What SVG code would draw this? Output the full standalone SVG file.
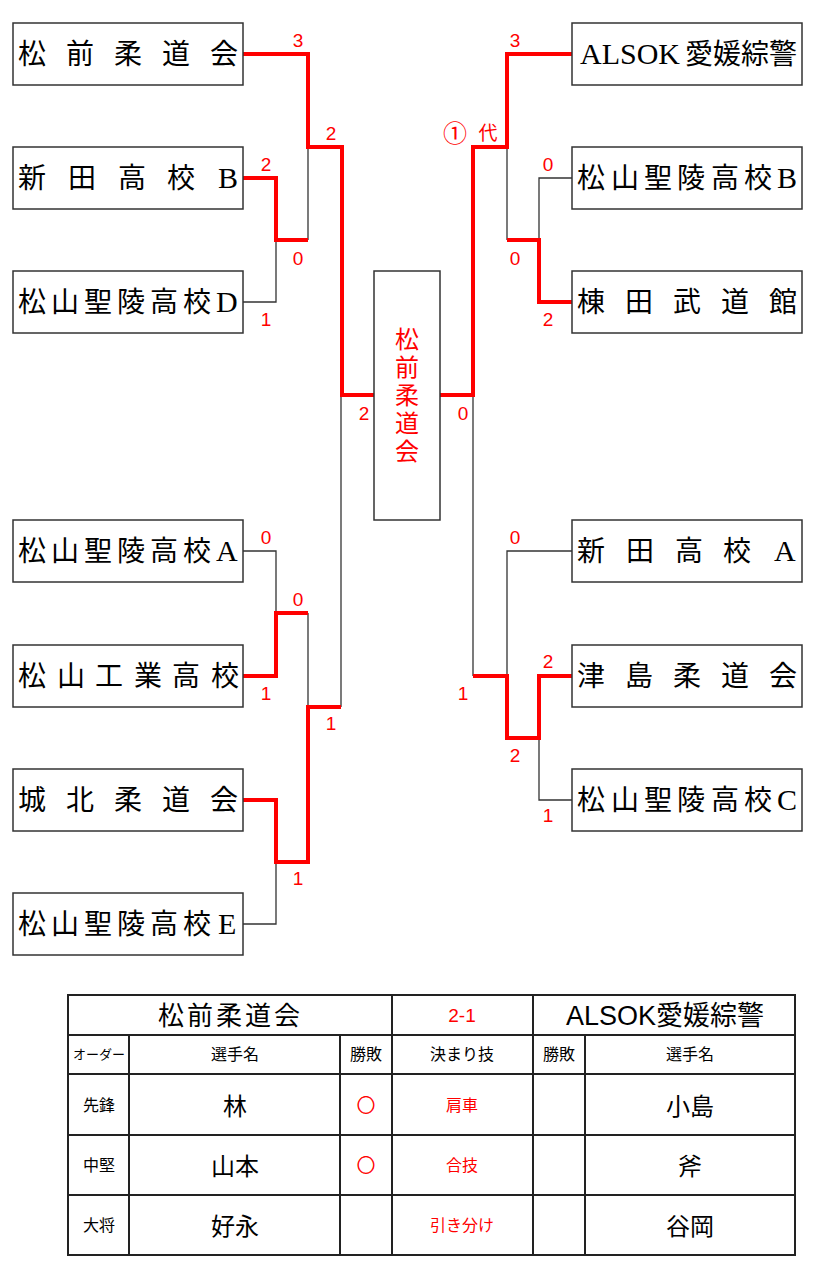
<svg xmlns="http://www.w3.org/2000/svg" width="820" height="1280" viewBox="0 0 820 1280">
<style>
.bg{fill:#fff}
.box{fill:#fff;stroke:#333;stroke-width:1.5}
.team{font-family:"Liberation Serif","Noto Sans CJK JP",serif;font-size:28px;fill:#000}
.lat{font-family:"Liberation Serif",serif;font-size:30px}
.sc{font-family:"Liberation Sans","Noto Sans CJK JP",sans-serif;font-size:19px;fill:#f00;text-anchor:middle}
.win{fill:none;stroke:#f00;stroke-width:4;stroke-linejoin:miter}
.lose{fill:none;stroke:#333;stroke-width:1.3}
.ctr{font-family:"Noto Sans CJK JP",sans-serif;font-size:24px;fill:#f00;writing-mode:vertical-rl;letter-spacing:4px}
.tb{fill:none;stroke:#222;stroke-width:2}
.tl{stroke:#222;stroke-width:2}
.tt{font-family:"Liberation Sans","Noto Sans CJK JP",sans-serif;fill:#000;text-anchor:middle}
.red{fill:#f00}
.cjk{font-family:"Noto Sans CJK JP",sans-serif}
.mark{stroke:#f00;stroke-width:0.6}
</style>
<rect class="bg" x="0" y="0" width="820" height="1280"/>
<g id="connectors">
<path class="lose" d="M308,240 V147"/>
<path class="lose" d="M243,302 H276 V240"/>
<path class="lose" d="M507,147 V240"/>
<path class="lose" d="M572,178 H539 V240"/>
<path class="lose" d="M243,551 H276 V613"/>
<path class="lose" d="M308,613 V707"/>
<path class="lose" d="M243,924 H276 V862"/>
<path class="lose" d="M341,707 V395"/>
<path class="lose" d="M473,395 V676"/>
<path class="lose" d="M572,551 H507 V676"/>
<path class="lose" d="M572,800 H539 V738"/>
<path class="win" d="M243,54 H308 V147 H342 V395 H374"/>
<path class="win" d="M243,178 H276 V240 H308"/>
<path class="win" d="M572,54 H507 V147 H473 V395 H440"/>
<path class="win" d="M507,240 H539 V302 H572"/>
<path class="win" d="M243,676 H276 V613 H308"/>
<path class="win" d="M243,800 H276 V862 H308 V707 H341"/>
<path class="win" d="M473,676 H507 V738 H539 V676 H572"/>
</g>
<g id="scores">
<text class="sc" x="298" y="47">3</text>
<text class="sc" x="331" y="140">2</text>
<text class="sc" x="266" y="171">2</text>
<text class="sc" x="298" y="265">0</text>
<text class="sc" x="266" y="326">1</text>
<text class="sc" x="364" y="420">2</text>
<text class="sc" x="463" y="420">0</text>
<text class="sc" x="515" y="47">3</text>
<text class="sc cjk" x="455" y="142" style="font-size:24px">①</text>
<text class="sc cjk" x="488" y="140" style="font-size:19px">代</text>
<text class="sc" x="548" y="171">0</text>
<text class="sc" x="515" y="265">0</text>
<text class="sc" x="548" y="326">2</text>
<text class="sc" x="266" y="544">0</text>
<text class="sc" x="298" y="606">0</text>
<text class="sc" x="266" y="700">1</text>
<text class="sc" x="331" y="730">1</text>
<text class="sc" x="298" y="885">1</text>
<text class="sc" x="515" y="544">0</text>
<text class="sc" x="548" y="668">2</text>
<text class="sc" x="463" y="700">1</text>
<text class="sc" x="515" y="762">2</text>
<text class="sc" x="548" y="822">1</text>
</g>
<g id="L1"><rect class="box" x="13" y="23" width="230" height="62"/><text class="team" y="64"><tspan x="18">松</tspan><tspan x="66">前</tspan><tspan x="114">柔</tspan><tspan x="162">道</tspan><tspan x="210">会</tspan></text></g>
<g id="L2"><rect class="box" x="13" y="147" width="230" height="62"/><text class="team" y="188"><tspan x="18">新</tspan><tspan x="68">田</tspan><tspan x="118">高</tspan><tspan x="167">校</tspan><tspan class="lat" x="218">B</tspan></text></g>
<g id="L3"><rect class="box" x="13" y="271" width="230" height="62"/><text class="team" y="312"><tspan x="18">松</tspan><tspan x="51">山</tspan><tspan x="84">聖</tspan><tspan x="117">陵</tspan><tspan x="150">高</tspan><tspan x="183">校</tspan><tspan class="lat" x="216">D</tspan></text></g>
<g id="L4"><rect class="box" x="13" y="520" width="230" height="62"/><text class="team" y="561"><tspan x="18">松</tspan><tspan x="51">山</tspan><tspan x="84">聖</tspan><tspan x="117">陵</tspan><tspan x="150">高</tspan><tspan x="183">校</tspan><tspan class="lat" x="216">A</tspan></text></g>
<g id="L5"><rect class="box" x="13" y="645" width="230" height="62"/><text class="team" y="686"><tspan x="18">松</tspan><tspan x="57">山</tspan><tspan x="95">工</tspan><tspan x="134">業</tspan><tspan x="172">高</tspan><tspan x="211">校</tspan></text></g>
<g id="L6"><rect class="box" x="13" y="769" width="230" height="62"/><text class="team" y="810"><tspan x="18">城</tspan><tspan x="66">北</tspan><tspan x="114">柔</tspan><tspan x="162">道</tspan><tspan x="210">会</tspan></text></g>
<g id="L7"><rect class="box" x="13" y="893" width="230" height="62"/><text class="team" y="934"><tspan x="18">松</tspan><tspan x="51">山</tspan><tspan x="84">聖</tspan><tspan x="117">陵</tspan><tspan x="150">高</tspan><tspan x="183">校</tspan><tspan class="lat" x="218">E</tspan></text></g>
<g id="R1"><rect class="box" x="572" y="23" width="230" height="62"/><text class="team" y="64"><tspan class="lat" x="580">ALSOK</tspan><tspan x="685">愛</tspan><tspan x="713">媛</tspan><tspan x="741">綜</tspan><tspan x="769">警</tspan></text></g>
<g id="R2"><rect class="box" x="572" y="147" width="230" height="62"/><text class="team" y="188"><tspan x="577">松</tspan><tspan x="611">山</tspan><tspan x="644">聖</tspan><tspan x="677">陵</tspan><tspan x="711">高</tspan><tspan x="744">校</tspan><tspan class="lat" x="777">B</tspan></text></g>
<g id="R3"><rect class="box" x="572" y="271" width="230" height="62"/><text class="team" y="312"><tspan x="577">棟</tspan><tspan x="625">田</tspan><tspan x="673">武</tspan><tspan x="721">道</tspan><tspan x="769">館</tspan></text></g>
<g id="R4"><rect class="box" x="572" y="520" width="230" height="62"/><text class="team" y="561"><tspan x="577">新</tspan><tspan x="626">田</tspan><tspan x="675">高</tspan><tspan x="723">校</tspan><tspan class="lat" x="774">A</tspan></text></g>
<g id="R5"><rect class="box" x="572" y="645" width="230" height="62"/><text class="team" y="686"><tspan x="577">津</tspan><tspan x="625">島</tspan><tspan x="673">柔</tspan><tspan x="721">道</tspan><tspan x="769">会</tspan></text></g>
<g id="R6"><rect class="box" x="572" y="769" width="230" height="62"/><text class="team" y="810"><tspan x="577">松</tspan><tspan x="611">山</tspan><tspan x="644">聖</tspan><tspan x="677">陵</tspan><tspan x="711">高</tspan><tspan x="744">校</tspan><tspan class="lat" x="777">C</tspan></text></g>
<g id="champion"><rect class="box" x="374" y="271" width="66" height="249"/>
<text class="ctr" x="407" y="327">松前柔道会</text></g>
<g id="result-table">
<rect class="tb" x="68" y="995" width="727" height="260"/>
<line class="tl" x1="68" y1="1035" x2="795" y2="1035"/>
<line class="tl" x1="68" y1="1074" x2="795" y2="1074"/>
<line class="tl" x1="68" y1="1135" x2="795" y2="1135"/>
<line class="tl" x1="68" y1="1195" x2="795" y2="1195"/>
<line class="tl" x1="129" y1="1035" x2="129" y2="1255"/>
<line class="tl" x1="340" y1="1035" x2="340" y2="1255"/>
<line class="tl" x1="392" y1="995" x2="392" y2="1255"/>
<line class="tl" x1="533" y1="995" x2="533" y2="1255"/>
<line class="tl" x1="585" y1="1035" x2="585" y2="1255"/>
<text class="tt" style="font-size:26px;text-anchor:start" y="1025"><tspan x="158">松</tspan><tspan x="187">前</tspan><tspan x="216">柔</tspan><tspan x="245">道</tspan><tspan x="274">会</tspan></text>
<text class="tt red" x="462" y="1022" style="font-size:19px">2-1</text>
<text class="tt" x="665" y="1025" style="font-size:27px">ALSOK愛媛綜警</text>
<text class="tt" x="99" y="1059" style="font-size:13px">オーダー</text>
<text class="tt" x="235" y="1060" style="font-size:16px">選手名</text>
<text class="tt" x="366" y="1060" style="font-size:16px">勝敗</text>
<text class="tt" x="462" y="1060" style="font-size:16px">決まり技</text>
<text class="tt" x="559" y="1060" style="font-size:16px">勝敗</text>
<text class="tt" x="690" y="1060" style="font-size:16px">選手名</text>
<text class="tt" x="99" y="1111" style="font-size:16px">先鋒</text>
<text class="tt" x="235" y="1115" style="font-size:24px">林</text>
<text class="tt red cjk mark" x="366" y="1112" style="font-size:18px">○</text>
<text class="tt red" x="462" y="1111" style="font-size:16px">肩車</text>
<text class="tt" x="690" y="1115" style="font-size:24px">小島</text>
<text class="tt" x="99" y="1171" style="font-size:16px">中堅</text>
<text class="tt" x="235" y="1175" style="font-size:24px">山本</text>
<text class="tt red cjk mark" x="366" y="1172" style="font-size:18px">○</text>
<text class="tt red" x="462" y="1171" style="font-size:16px">合技</text>
<text class="tt" x="690" y="1175" style="font-size:24px">斧</text>
<text class="tt" x="99" y="1231" style="font-size:16px">大将</text>
<text class="tt" x="235" y="1235" style="font-size:24px">好永</text>
<text class="tt red" x="462" y="1231" style="font-size:16px">引き分け</text>
<text class="tt" x="690" y="1235" style="font-size:24px">谷岡</text>
</g>
</svg>
